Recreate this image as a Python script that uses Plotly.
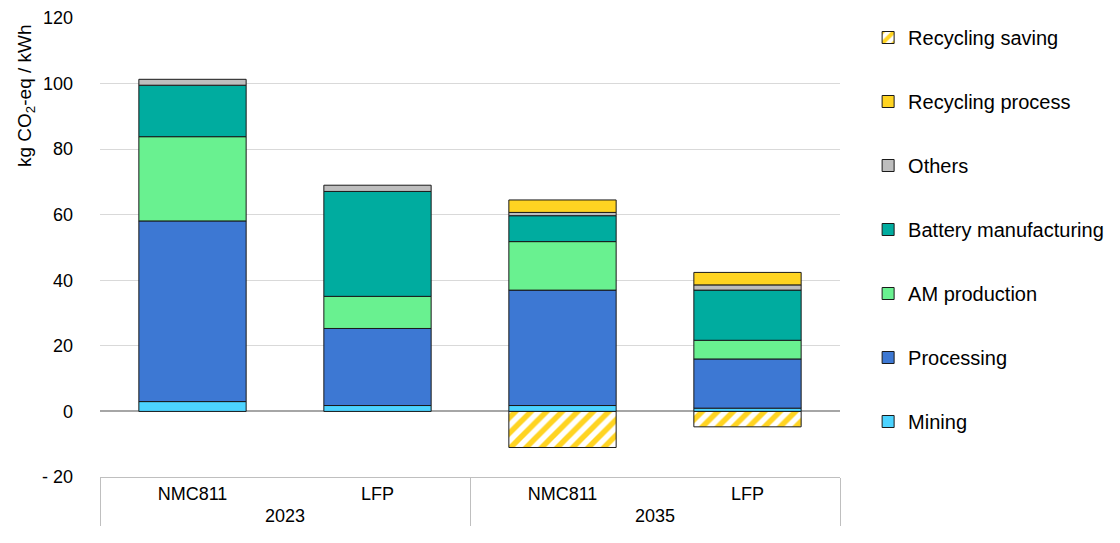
import plotly.graph_objects as go

# categories (two-level x axis)
years = ["2023", "2023", "2035", "2035"]
chemistries = ["NMC811", "LFP", "NMC811", "LFP"]

# stage contributions, kg CO2-eq / kWh
mining = [3.0, 1.8, 1.8, 1.0]
processing = [55.1, 23.5, 35.2, 15.0]
am_production = [25.7, 9.8, 14.8, 5.7]
battery_manufacturing = [15.7, 32.0, 7.9, 15.3]
others = [1.8, 1.9, 1.0, 1.6]
recycling_process = [None, None, 3.8, 3.8]
recycling_saving = [None, None, -11.0, -4.7]

y_ticks = [-20, 0, 20, 40, 60, 80, 100, 120]
y_tick_text = ["- 20", "0", "20", "40", "60", "80", "100", "120"]

FONT = "Liberation Sans, Arial, sans-serif"
x = [years, chemistries]

series = [
    ("Mining", mining, "#4CD3FF"),
    ("Processing", processing, "#3D78D3"),
    ("AM production", am_production, "#69F190"),
    ("Battery manufacturing", battery_manufacturing, "#00AC9F"),
    ("Others", others, "#BEBEBE"),
    ("Recycling process", recycling_process, "#FFD422"),
]

fig = go.Figure()
for i, (name, vals, color) in enumerate(series):
    fig.add_trace(go.Bar(
        x=x, y=vals, name=name, legendgroup=f"g{i}", legendrank=10 - i,
        marker=dict(color=color, line=dict(color="#1a1a1a", width=1)),
    ))

fig.add_trace(go.Bar(
    x=x, y=recycling_saving, name="Recycling saving", legendgroup="g6",
    legendrank=1,
    marker=dict(
        color="white",
        line=dict(color="#1a1a1a", width=1),
        pattern=dict(shape="/", fgcolor="#FFD422", bgcolor="white",
                     fgopacity=1, size=11, solidity=0.5),
    ),
))

# page body adds an 8px offset, so margins are shifted accordingly
fig.update_layout(
    barmode="relative",
    bargap=0.42,
    width=1120, height=543,
    margin=dict(l=92, r=288, t=10, b=74, autoexpand=False),
    plot_bgcolor="white", paper_bgcolor="white",
    font=dict(family=FONT, size=18, color="#000000"),
    legend=dict(
        traceorder="grouped", tracegroupgap=35,
        x=1.038, y=1.0, xanchor="left", yanchor="top",
        font=dict(size=20), itemwidth=30,
    ),
)

fig.update_yaxes(
    range=[-20, 120], tickvals=y_ticks, ticktext=y_tick_text,
    showgrid=True, gridcolor="#D9D9D9", gridwidth=1,
    zeroline=True, zerolinecolor="#A6A6A6", zerolinewidth=1.5,
    showline=False, ticks="", ticklabelstandoff=26, automargin=False,
    tickfont=dict(size=18),
)
fig.update_xaxes(
    showline=True, linecolor="#BFBFBF", linewidth=1,
    showdividers=True, dividercolor="#BFBFBF", dividerwidth=1,
    ticks="", tickfont=dict(size=18), automargin=False,
)

fig.add_annotation(
    text="kg CO<sub>2</sub>-eq / kWh", textangle=-90,
    xref="paper", yref="paper", x=-0.1, y=0.83,
    xanchor="center", yanchor="middle", showarrow=False,
    font=dict(size=19),
)

fig.write_html("out.html")
